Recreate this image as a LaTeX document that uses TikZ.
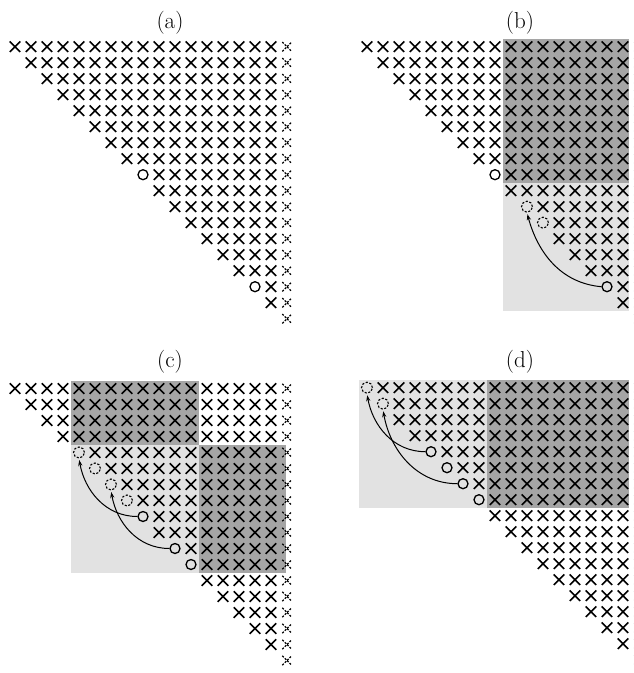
\documentclass[tikz,border=0pt]{standalone}
\usetikzlibrary{shapes.misc,arrows.meta}
\definecolor{darkbox}{RGB}{165,165,165}
\definecolor{lightbox}{RGB}{226,226,226}
\tikzset{
  xm/.style={cross out, draw, line width=1.5pt, minimum size=10.5pt, inner sep=0pt, outer sep=0pt},
  om/.style={circle, draw, line width=1.3pt, minimum size=10pt, inner sep=0pt},
  dm/.style={circle, draw, dash pattern=on 2.2pt off 1.6pt, line width=1.1pt, minimum size=11pt, inner sep=0pt},
  dx/.style={cross out, draw, dash pattern=on 2pt off 1.4pt, line width=1.3pt, minimum size=8pt, inner sep=0pt},
  arr/.style={-{Stealth[length=6pt,width=4.2pt]}, line width=1pt, shorten >=1.5pt},
  lbl/.style={font=\fontsize{23}{26}\selectfont, anchor=base},
  darkfill/.style={fill=darkbox, draw=none},
  lightfill/.style={fill=lightbox, draw=none},
}
% #1 name, #2 x of column 1, #3 y of row 1 (downwards), #4 diagonal types
\newcommand\drawpanel[4]{%
  \foreach \r in {1,...,17}{
    \foreach \c in {\r,...,17}{
      \ifnum\c>\r
        \node[xm] (#1-\r-\c) at ({#2+(\c-1)*16},{-(#3+(\r-1)*16)}) {};
      \fi
    }
  }
  \foreach \t [count=\r] in {#4}{
    \node[\t] (#1-\r-\r) at ({#2+(\r-1)*16},{-(#3+(\r-1)*16)}) {};
  }
  \foreach \r in {1,...,18}{
    \node[dx] (#1-\r-18) at ({#2+17*16},{-(#3+(\r-1)*16)}) {};
  }
}
\begin{document}
\begin{tikzpicture}[x=1pt,y=1pt]
\useasboundingbox (0,0) rectangle (634,-673);
% shaded blocks
% (b)
\fill[darkfill]  (503,-38.7) rectangle (629,-182.7);
\fill[lightfill] (503,-182.7) rectangle (629,-310.7);
% (c)
\fill[darkfill]  (71,-380.5) rectangle (199,-444.5);
\fill[lightfill] (71,-444.5) rectangle (199,-572.5);
\fill[darkfill]  (199,-444.5) rectangle (286,-572.5);
% (d)
\fill[lightfill] (359,-379.7) rectangle (487,-507.7);
\fill[darkfill]  (487,-379.7) rectangle (629,-507.7);
% labels
\node[lbl] (la) at (170,-28) {(a)};
\node[lbl] (lb) at (520,-28) {(b)};
\node[lbl] (lc) at (170,-367) {(c)};
\node[lbl] (ld) at (520,-367) {(d)};
% panels
\drawpanel{a}{15}{46.7}{xm,xm,xm,xm,xm,xm,xm,xm,om,xm,xm,xm,xm,xm,xm,om,xm}
\drawpanel{b}{367}{46.7}{xm,xm,xm,xm,xm,xm,xm,xm,om,xm,dm,dm,xm,xm,xm,om,xm}
\drawpanel{c}{15}{388.5}{xm,xm,xm,xm,dm,dm,dm,dm,om,xm,om,om,xm,xm,xm,xm,xm}
\drawpanel{d}{367}{387.7}{dm,dm,xm,xm,om,om,om,om,xm,xm,xm,xm,xm,xm,xm,xm,xm}
% moves
\draw[arr] (b-16-16.west) to[out=175,in=-75] (b-11-11.south);
\draw[arr] (c-9-9.west) to[out=180,in=-80] (c-5-5.south);
\draw[arr] (c-11-11.west) to[out=180,in=-80] (c-7-7.south);
\draw[arr] (d-5-5.west) to[out=180,in=-80] (d-1-1.south);
\draw[arr] (d-7-7.west) to[out=180,in=-80] (d-2-2.south);
\end{tikzpicture}
\end{document}
